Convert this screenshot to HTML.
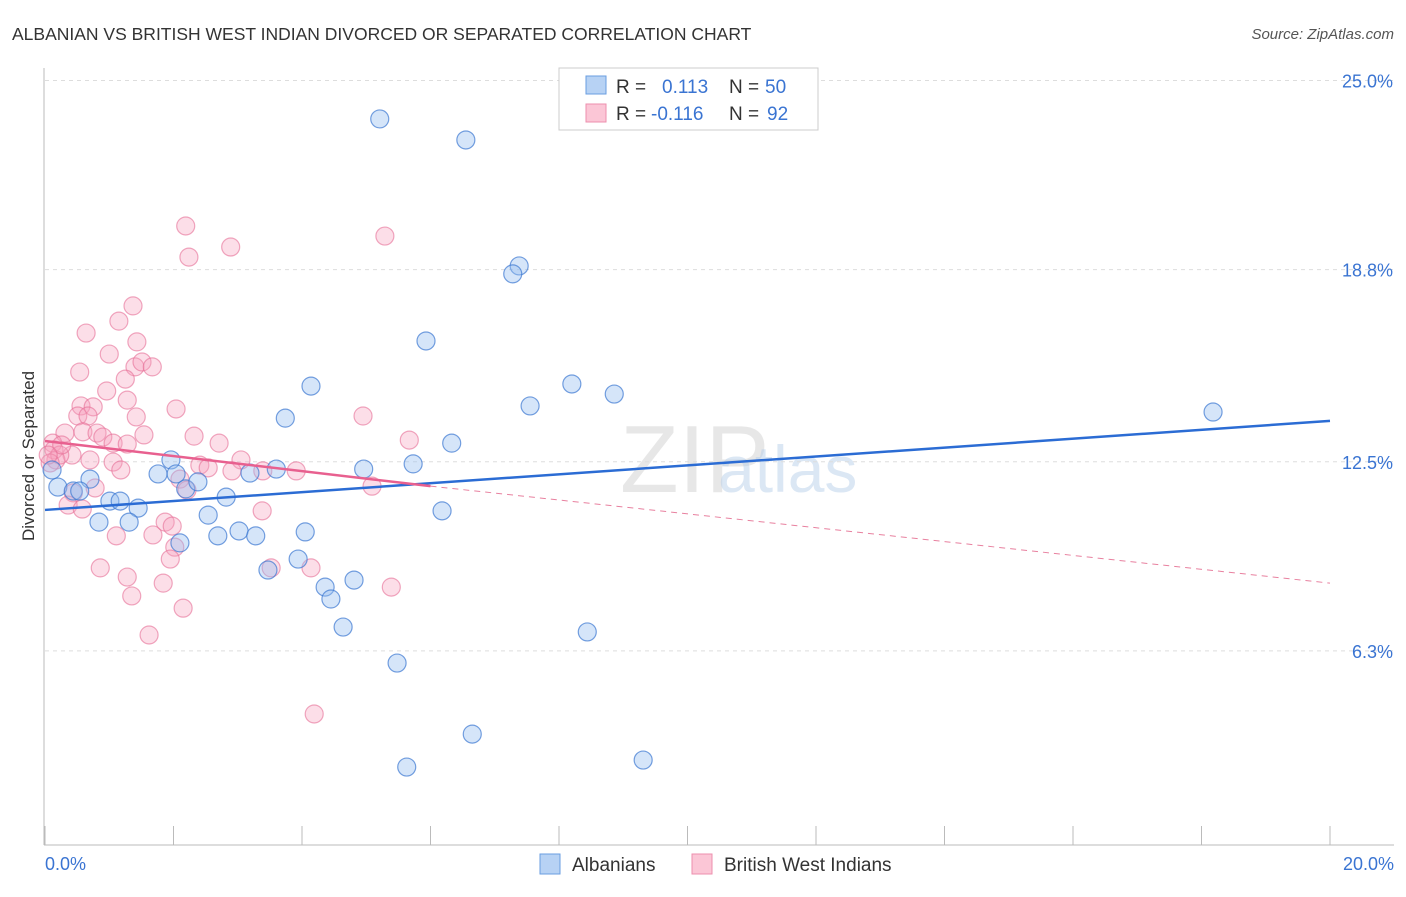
<!DOCTYPE html>
<html><head><meta charset="utf-8"><style>
body{margin:0;background:#fff;font-family:"Liberation Sans",sans-serif;}
svg text{font-family:"Liberation Sans",sans-serif;}
</style></head><body>
<svg id="chart" width="1406" height="892">
<text x="12" y="40" font-size="17.5" fill="#333">ALBANIAN VS BRITISH WEST INDIAN DIVORCED OR SEPARATED CORRELATION CHART</text>
<text x="1394" y="39" font-size="15" fill="#555" text-anchor="end" font-style="italic">Source: ZipAtlas.com</text>
<text x="0" y="0" transform="translate(34,456) rotate(-90)" font-size="17" fill="#333" text-anchor="middle">Divorced or Separated</text>
<text x="620" y="492" font-size="96" fill="#ccc" opacity="0.45" font-family="Liberation Serif">ZIP</text>
<text x="718" y="492" font-size="66" fill="#b9d0ea" opacity="0.5">atlas</text>
<g id="grid"></g><g id="axes"></g><g id="pts"></g><g id="trends"></g>
<g>
<rect x="559" y="68" width="259" height="62" fill="#fff" stroke="#ccc"/>
<rect x="586" y="76" width="20" height="18" fill="#b7d2f4" stroke="#6a9ee0"/>
<rect x="586" y="104" width="20" height="18" fill="#fbc6d6" stroke="#ec8fae"/>
<text x="616" y="93" font-size="19" fill="#333">R = </text><text x="662" y="93" font-size="19" fill="#3a74d2">0.113</text>
<text x="729" y="93" font-size="19" fill="#333">N = </text><text x="765" y="93" font-size="19" fill="#3a74d2">50</text>
<text x="616" y="120" font-size="19" fill="#333">R = </text><text x="651" y="120" font-size="19" fill="#3a74d2">-0.116</text>
<text x="729" y="120" font-size="19" fill="#333">N = </text><text x="767" y="120" font-size="19" fill="#3a74d2">92</text>
</g>
<g>
<rect x="540" y="854" width="20" height="20" fill="#b7d2f4" stroke="#6a9ee0"/>
<text x="572" y="871" font-size="19" fill="#333">Albanians</text>
<rect x="692" y="854" width="20" height="20" fill="#fbc6d6" stroke="#ec8fae"/>
<text x="724" y="871" font-size="19" fill="#333">British West Indians</text>
</g>
</svg>
<script>
const yTicks=[25.0,18.8,12.5,6.3];
const yTickLabels=["25.0%","18.8%","12.5%","6.3%"];
const xTicks=[0,2,4,6,8,10,12,14,16,18,20];
const xEndLabels=["0.0%","20.0%"];
const blueX=[5.21,6.55,7.38,7.28,5.93,4.14,8.20,8.86,7.55,3.74,6.33,18.18,1.96,4.96,5.73,3.60,3.19,1.76,2.04,0.20,0.70,0.44,0.54,1.01,1.17,1.45,2.19,2.38,2.82,0.84,1.31,2.54,6.18,2.69,3.02,3.28,4.05,2.10,3.94,3.47,4.81,4.36,4.45,4.64,8.44,5.48,6.65,5.63,9.31,0.11];
const blueY=[23.74,23.05,18.92,18.66,16.46,14.98,15.05,14.72,14.33,13.93,13.11,14.13,12.56,12.26,12.43,12.26,12.13,12.10,12.10,11.67,11.93,11.54,11.54,11.21,11.21,10.98,11.61,11.84,11.34,10.52,10.52,10.75,10.89,10.07,10.23,10.07,10.20,9.84,9.31,8.95,8.62,8.39,8.00,7.08,6.92,5.90,3.57,2.49,2.72,12.23];
const pinkX=[1.37,1.15,0.64,1.43,1.00,0.54,1.40,1.51,1.67,1.25,0.96,1.28,0.56,0.75,0.51,0.67,1.42,2.04,0.59,0.81,0.90,1.54,2.32,2.71,1.06,1.28,0.31,0.12,0.42,0.70,1.06,1.18,2.41,2.54,3.05,2.91,3.39,3.91,2.10,2.21,0.78,0.44,0.36,0.58,1.11,1.68,1.87,1.98,2.02,1.95,3.38,3.52,4.14,0.86,1.28,1.84,1.35,2.15,1.62,2.19,2.89,2.24,5.29,4.95,5.67,5.09,5.39,4.19,0.14,0.17,0.23,0.08,0.26,0.05];
const pinkY=[17.61,17.11,16.72,16.43,16.03,15.44,15.61,15.77,15.61,15.21,14.82,14.52,14.33,14.30,14.00,14.00,13.97,14.23,13.48,13.44,13.31,13.38,13.34,13.11,13.11,13.08,13.44,13.11,12.72,12.56,12.49,12.23,12.39,12.30,12.56,12.20,12.20,12.20,11.93,11.57,11.64,11.48,11.08,10.95,10.07,10.10,10.52,10.39,9.70,9.31,10.89,9.02,9.02,9.02,8.72,8.52,8.10,7.70,6.82,20.23,19.54,19.21,19.90,14.00,13.21,11.70,8.39,4.23,12.89,12.56,12.72,12.46,13.05,12.72];
const blueTrend=[[0,10.92],[20,13.84]];
const pinkTrendSolid=[[0,13.18],[6,11.70]];
const pinkTrendDash=[[6,11.70],[20,8.52]];
const NS="http://www.w3.org/2000/svg";
const xs=v=>45+v*64.25, ys=v=>843-v*30.5;
function mk(tag,attrs,parent){const e=document.createElementNS(NS,tag);for(const k in attrs)e.setAttribute(k,attrs[k]);document.getElementById(parent).appendChild(e);return e;}
yTicks.forEach((t,i)=>{
 const l=mk('line',{x1:45,x2:1394,y1:ys(t),y2:ys(t),stroke:'#ddd','stroke-dasharray':'4,4'},'grid');
 
 
 const tx=mk('text',{x:1393,y:ys(t)+7,'font-size':18,fill:'#3a74d2','text-anchor':'end'},'grid');tx.textContent=yTickLabels[i];
 
 
});
const ax=mk('line',{x1:44,x2:44,y1:68,y2:845,stroke:'#bbb'},'axes');


const bx=mk('line',{x1:44,x2:1394,y1:845,y2:845,stroke:'#bbb'},'axes');


xTicks.forEach(t=>{const l=mk('line',{x1:xs(t),x2:xs(t),y1:826,y2:845,stroke:'#bbb'},'axes');
 
 });
[[xs(0),'start',0],[xs(20)+64,'end',1]].forEach(a=>{const t=mk('text',{x:a[0],y:870,'font-size':18,fill:'#3a74d2','text-anchor':a[1]},'axes');t.textContent=xEndLabels[a[2]];
 
 });
pinkX.forEach((x,i)=>{const c=mk('circle',{cx:xs(x),cy:ys(pinkY[i]),r:9,fill:'rgba(246,160,188,0.35)',stroke:'rgba(230,110,150,0.6)','stroke-width':1.2},'pts');
 
 });
blueX.forEach((x,i)=>{const c=mk('circle',{cx:xs(x),cy:ys(blueY[i]),r:9,fill:'rgba(150,190,240,0.4)',stroke:'rgba(60,120,210,0.7)','stroke-width':1.2},'pts');
 
 });
const bt=mk('line',{x1:xs(blueTrend[0][0]),y1:ys(blueTrend[0][1]),x2:xs(blueTrend[1][0]),y2:ys(blueTrend[1][1]),stroke:'#2b6cd4','stroke-width':2.5},'trends');


const pt=mk('line',{x1:xs(pinkTrendSolid[0][0]),y1:ys(pinkTrendSolid[0][1]),x2:xs(pinkTrendSolid[1][0]),y2:ys(pinkTrendSolid[1][1]),stroke:'#e8608f','stroke-width':2.5},'trends');


const pd=mk('line',{x1:xs(pinkTrendDash[0][0]),y1:ys(pinkTrendDash[0][1]),x2:xs(pinkTrendDash[1][0]),y2:ys(pinkTrendDash[1][1]),stroke:'#e8809f','stroke-width':1,'stroke-dasharray':'6,5'},'trends');


</script>
</body></html>
